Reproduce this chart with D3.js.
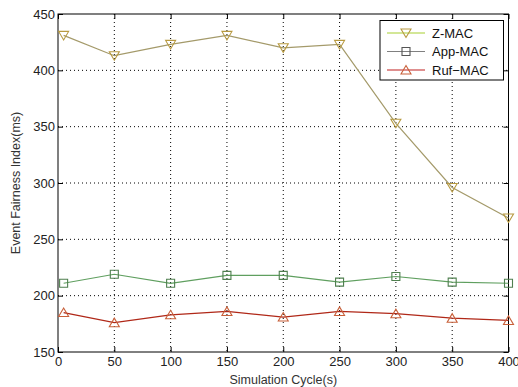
<!DOCTYPE html>
<html>
<head>
<meta charset="utf-8">
<script src="https://cdn.jsdelivr.net/npm/d3@7"></script>
<style>
  body { margin: 0; background: #fff; }
  svg { font-family: "Liberation Sans", Arial, sans-serif; }
</style>
</head>
<body>
<svg id="chart" width="518" height="387"></svg>
<script>
// data
var cycles = [5, 50, 100, 150, 200, 250, 300, 350, 400];
var zmac = [431, 413, 423, 431, 420, 423, 353, 296, 269];
var appmac = [211, 219, 211, 218, 218, 212, 217, 212, 211];
var rufmac = [185, 176, 183, 186, 181, 186, 184, 180, 178];
var xTicks = [0, 50, 100, 150, 200, 250, 300, 350, 400];
var yTicks = [150, 200, 250, 300, 350, 400, 450];

var svg = d3.select("#chart");
var plotL = 58, plotR = 508.5, plotT = 14, plotB = 352;

var x = d3.scaleLinear().domain([0, 400]).range([plotL, plotR]);
var y = d3.scaleLinear().domain([150, 450]).range([plotB, plotT]);

// grid
var grid = svg.append("g");
grid.selectAll(".gx").data(xTicks.slice(1, -1)).enter().append("line")
    .attr("x1", d => x(d)).attr("x2", d => x(d))
    .attr("y1", plotT).attr("y2", plotB)
    .attr("stroke", "#000").attr("stroke-width", 1)
    .attr("stroke-dasharray", "1,3");
grid.selectAll(".gy").data(yTicks.slice(1, -1)).enter().append("line")
    .attr("y1", d => y(d)).attr("y2", d => y(d))
    .attr("x1", plotL).attr("x2", plotR)
    .attr("stroke", "#000").attr("stroke-width", 1)
    .attr("stroke-dasharray", "1,3");

// axes (ticks inward)
svg.append("g")
    .attr("transform", "translate(0," + plotB + ")")
    .call(d3.axisBottom(x).tickValues(xTicks).tickSizeInner(-5).tickSizeOuter(0).tickPadding(5))
    .call(g => g.select(".domain").remove())
    .call(g => g.selectAll("text").attr("font-size", 13).attr("fill", "#222"));
svg.append("g")
    .attr("transform", "translate(" + plotL + ",0)")
    .call(d3.axisLeft(y).tickValues(yTicks).tickSizeInner(-5).tickSizeOuter(0).tickPadding(3))
    .call(g => g.select(".domain").remove())
    .call(g => g.selectAll("text").attr("font-size", 13).attr("fill", "#222"));
svg.append("g")
    .attr("transform", "translate(0," + plotT + ")")
    .call(d3.axisTop(x).tickValues(xTicks).tickSizeInner(-5).tickSizeOuter(0).tickFormat(""))
    .call(g => g.select(".domain").remove());
svg.append("g")
    .attr("transform", "translate(" + plotR + ",0)")
    .call(d3.axisRight(y).tickValues(yTicks).tickSizeInner(-5).tickSizeOuter(0).tickFormat(""))
    .call(g => g.select(".domain").remove());

svg.append("rect")
    .attr("x", plotL).attr("y", plotT)
    .attr("width", plotR - plotL).attr("height", plotB - plotT)
    .attr("fill", "none").attr("stroke", "#000").attr("stroke-width", 1);

// labels
svg.append("text")
    .attr("x", (plotL + plotR) / 2).attr("y", 384)
    .attr("text-anchor", "middle").attr("font-size", 12.5).attr("fill", "#333")
    .text("Simulation Cycle(s)");
svg.append("text")
    .attr("transform", "translate(20," + ((plotT + plotB) / 2) + ") rotate(-90)")
    .attr("text-anchor", "middle").attr("font-size", 12.5).attr("fill", "#333")
    .text("Event Fairness Index(ms)");

var series = [
  { name: "Z-MAC", values: zmac, line: "#a49a6a", legendLine: "#a8d030", marker: "#b89a40", legendMarker: "#b89a40", shape: "down" },
  { name: "App-MAC", values: appmac, line: "#5f9f5f", legendLine: "#808080", marker: "#4f7f4f", legendMarker: "#555", shape: "square" },
  { name: "Ruf\u2212MAC", values: rufmac, line: "#b02818", legendLine: "#c02020", marker: "#c8603a", legendMarker: "#c8603a", shape: "up" }
];

function markerPath(shape) {
  if (shape === "square") return "M-4,-4H4V4H-4Z";
  if (shape === "down") return "M-5,-4L5,-4L0,4.5Z";
  return "M-5,4L5,4L0,-4.5Z";
}

var line = d3.line().x((d, i) => x(cycles[i])).y(d => y(d));

series.forEach(s => {
  svg.append("path").datum(s.values)
      .attr("d", line)
      .attr("fill", "none").attr("stroke", s.line).attr("stroke-width", 1.2);
  svg.selectAll(null).data(s.values).enter().append("path")
      .attr("transform", (d, i) => "translate(" + x(cycles[i]) + "," + y(d) + ")")
      .attr("d", markerPath(s.shape))
      .attr("fill", "none").attr("stroke", s.marker).attr("stroke-width", 1.1);
});

// legend
var lg = svg.append("g");
lg.append("rect")
    .attr("x", 380).attr("y", 20.5).attr("width", 123.5).attr("height", 59.5)
    .attr("fill", "#fff").attr("stroke", "#000").attr("stroke-width", 1);
series.forEach((s, i) => {
  var ly = 33 + i * 18.5;
  lg.append("line").attr("x1", 387).attr("x2", 425).attr("y1", ly).attr("y2", ly)
      .attr("stroke", s.legendLine).attr("stroke-width", 1.2);
  lg.append("path").attr("transform", "translate(406," + ly + ")")
      .attr("d", markerPath(s.shape))
      .attr("fill", "none").attr("stroke", s.legendMarker).attr("stroke-width", 1.1);
  lg.append("text").attr("x", 432).attr("y", ly + 4.5)
      .attr("font-size", 13).attr("fill", "#111").text(s.name);
});
</script>
</body>
</html>
